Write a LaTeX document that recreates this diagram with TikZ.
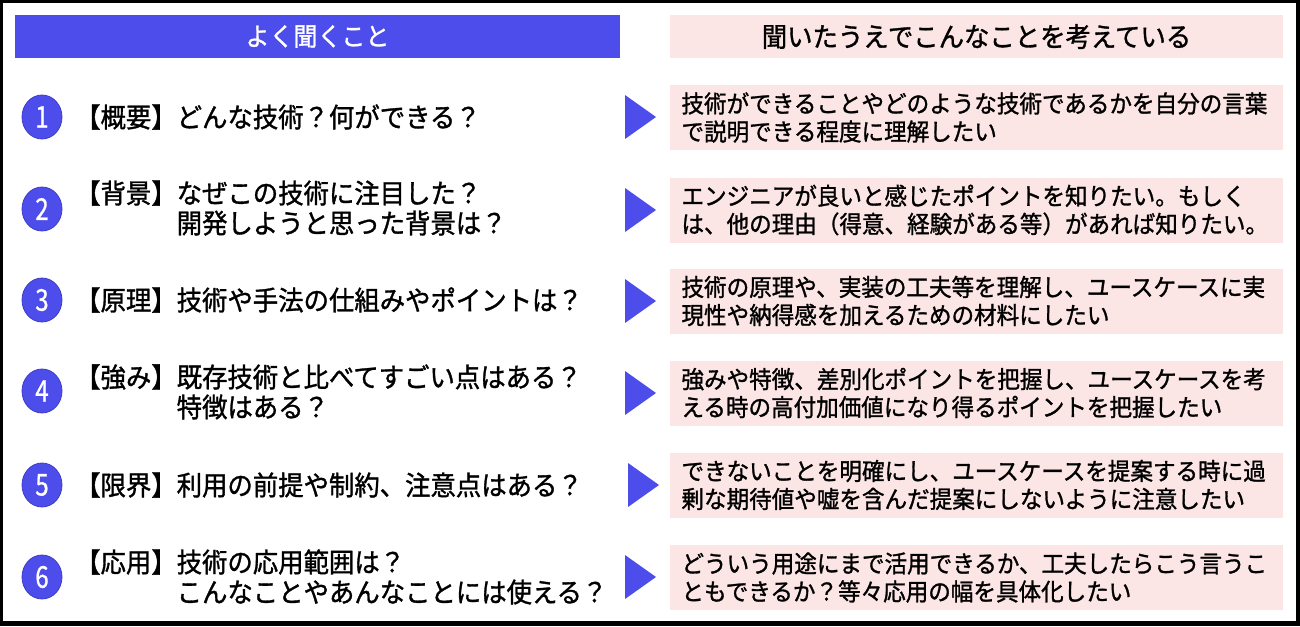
\documentclass[tikz,border=0pt]{standalone}
\usepackage{fontspec}
\setmainfont{Noto Sans CJK JP}
\newfontfamily\jpfont[FakeBold=1.2,FakeStretch=0.94]{Noto Sans CJK JP}
\newfontfamily\numfont[FakeBold=0.8,FakeStretch=0.8]{Noto Sans CJK JP}
\usetikzlibrary{shapes.geometric}
\definecolor{bluev}{RGB}{77,77,235}
\definecolor{bluedark}{RGB}{60,60,200}
\definecolor{pinkbg}{RGB}{252,229,229}
\tikzset{
  x=1pt, y=-1pt,
  hdrblue/.style={fill=bluev, minimum width=605pt, minimum height=43pt, inner sep=0pt,
    text=white, font=\jpfont\fontsize{25.5}{28}\selectfont},
  hdrpink/.style={fill=pinkbg, minimum width=613pt, minimum height=43pt, inner sep=0pt,
    text=black, font=\jpfont\fontsize{27}{28}\selectfont},
  numcirc/.style={ellipse, fill=bluev, draw=bluedark, line width=0.8pt,
    minimum width=40pt, minimum height=44pt, inner sep=0pt, text=white,
    font=\numfont\fontsize{30}{30}\selectfont},
  question/.style={anchor=west, inner sep=0pt, align=left,
    font=\jpfont\fontsize{27}{30}\selectfont},
  answer/.style={fill=pinkbg, minimum width=613pt, minimum height=65pt,
    text width=590pt, align=left, inner xsep=11.5pt, inner ysep=0pt,
    font=\jpfont\fontsize{24}{28}\selectfont},
  tri/.style={fill=bluev}
}
\newcommand{\arrowtri}[1]{\fill[tri] (#1) ++(0,-22) -- ++(31,22) -- ++(-31,22) -- cycle;}
\begin{document}
\begin{tikzpicture}
\useasboundingbox (0,0) rectangle (1300,626);
\fill[black] (0,0) rectangle (1300,626);
\fill[white] (3,3) rectangle (1296,621);

\node[hdrblue] (h1) at (317.5,36.5) {よく聞くこと};
\node[hdrpink] (h2) at (976.5,36.5) {聞いたうえでこんなことを考えている};

% Row 1
\node[numcirc] (c1) at (42,117) {1};
\node[question] (q1) at (75,117) {【概要】どんな技術？何ができる？};
\coordinate (a1) at (625,117);
\arrowtri{a1}
\node[answer] (r1) at (976.5,117.5) {技術ができることやどのような技術であるかを自分の言葉\\で説明できる程度に理解したい};

% Row 2
\node[numcirc] (c2) at (42,209) {2};
\node[question] (q2) at (75,208) {【背景】なぜこの技術に注目した？\\\phantom{【背景】}開発しようと思った背景は？};
\coordinate (a2) at (625,210);
\arrowtri{a2}
\node[answer] (r2) at (976.5,210) {エンジニアが良いと感じたポイントを知りたい。もしく\\は、他の理由（得意、経験がある等）があれば知りたい。};

% Row 3
\node[numcirc] (c3) at (42,300) {3};
\node[question] (q3) at (75,300) {【原理】技術や手法の仕組みやポイントは？};
\coordinate (a3) at (625,301);
\arrowtri{a3}
\node[answer] (r3) at (976.5,301) {技術の原理や、実装の工夫等を理解し、ユースケースに実\\現性や納得感を加えるための材料にしたい};

% Row 4
\node[numcirc] (c4) at (42,391) {4};
\node[question] (q4) at (75,392) {【強み】既存技術と比べてすごい点はある？\\\phantom{【強み】}特徴はある？};
\coordinate (a4) at (625,393);
\arrowtri{a4}
\node[answer] (r4) at (976.5,393) {強みや特徴、差別化ポイントを把握し、ユースケースを考\\える時の高付加価値になり得るポイントを把握したい};

% Row 5
\node[numcirc] (c5) at (42,485) {5};
\node[question] (q5) at (75,485) {【限界】利用の前提や制約、注意点はある？};
\coordinate (a5) at (628,485);
\arrowtri{a5}
\node[answer] (r5) at (976.5,485) {できないことを明確にし、ユースケースを提案する時に過\\剰な期待値や嘘を含んだ提案にしないように注意したい};

% Row 6
\node[numcirc] (c6) at (42,577) {6};
\node[question] (q6) at (75,577) {【応用】技術の応用範囲は？\\\phantom{【応用】}こんなことやあんなことには使える？};
\coordinate (a6) at (625,577);
\arrowtri{a6}
\node[answer] (r6) at (976.5,577.5) {どういう用途にまで活用できるか、工夫したらこう言うこ\\ともできるか？等々応用の幅を具体化したい};
\end{tikzpicture}
\end{document}
